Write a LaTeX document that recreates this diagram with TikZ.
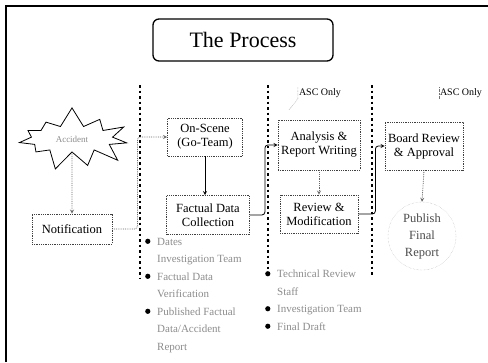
\documentclass[tikz,border=0pt]{standalone}
\usepackage{fontspec}
\setmainfont{Liberation Serif}
\usetikzlibrary{arrows, shapes.symbols, calc}
\tikzset{
    step-box/.style={
        draw=black!75, densely dotted, thick, align=center, inner sep=1pt,
        font=\fontsize{12.5}{14}\selectfont
    },
    title-box/.style={
        draw, line width=1.3pt, rounded corners=6pt,
        minimum width=180pt, minimum height=42pt, font=\fontsize{22}{24}\selectfont
    },
    burst/.style={
        starburst, draw, thick, starburst points=11, starburst point height=20pt,
        random starburst=7, minimum width=122pt, minimum height=66pt, inner sep=0pt,
        text=black!45, font=\fontsize{9}{10}\selectfont
    },
    phase-line/.style={line width=1.6pt, dash pattern=on 2.5pt off 3pt},
    solid-link/.style={->, >=stealth, thick, rounded corners=3pt},
    dot-link/.style={->, >=stealth, thick, densely dotted, black!60, rounded corners=3pt},
    asc-label/.style={font=\fontsize{10}{11}\selectfont, inner sep=1pt},
    leader/.style={densely dotted, black!55},
    bullet-list/.style={
        anchor=north west, align=left, inner sep=0pt, text=black!45,
        font=\fontsize{11}{17.5}\selectfont
    },
}
\newcommand{\bitem}{\makebox[12pt][l]{\raisebox{1.5pt}{\tikz\fill[black] (0,0) circle (2.6pt);}}}
\newcommand{\bgap}{\hspace*{12pt}}

\begin{document}
\begin{tikzpicture}[x=1pt, y=-1pt]

        \useasboundingbox (0,0) rectangle (488,362);

        % FRAME
        \draw[line width=2pt] (6,362) -- (6,6) -- (488,6);

        % TITLE
        \node[title-box]  (TITLE)    at (243,40)   {The Process};

        % PHASE SEPARATORS
        \coordinate (SEP1T) at (140,85);
        \coordinate (SEP1B) at (140,278);
        \coordinate (SEP2T) at (268,85);
        \coordinate (SEP2B) at (268,277);
        \coordinate (SEP3T) at (372,85);
        \coordinate (SEP3B) at (372,275);
        \draw[phase-line] (SEP1T) -- (SEP1B);
        \draw[phase-line] (SEP2T) -- (SEP2B);
        \draw[phase-line] (SEP3T) -- (SEP3B);

        % EVENT AND NOTIFICATION
        \node[burst]      (ACC)      at (72,139)   {Accident};
        \node[step-box, minimum width=80pt, minimum height=30pt]
                          (NOTE)     at (72,229)   {Notification};

        % INVESTIGATION STEPS
        \node[step-box, minimum width=75pt, minimum height=38pt]
                          (ONSCENE)  at (205,137)  {On-Scene\\(Go-Team)};
        \node[step-box, minimum width=83pt, minimum height=39pt]
                          (FACTS)    at (208,215)  {Factual Data\\Collection};
        \node[step-box, minimum width=82pt, minimum height=50pt]
                          (ANALYSIS) at (319,145)  {Analysis \&\\Report Writing};
        \node[step-box, minimum width=78pt, minimum height=38pt]
                          (REVIEW)   at (319,214)  {Review \&\\Modification};
        \node[step-box, minimum width=78pt, minimum height=48pt]
                          (BOARD)    at (424,146)  {Board Review\\\& Approval};
        \node[circle, draw=black!30, densely dotted, align=center, inner sep=0pt,
              minimum size=68pt, font=\fontsize{12.5}{17}\selectfont, text=black!70]
                          (PUBLISH)  at (422,236)  {Publish\\Final\\Report};

        % ASC ONLY LABELS
        \node[asc-label]  (ASC1)     at (320,93)   {ASC Only};
        \node[asc-label]  (ASC2)     at (461,93)   {ASC Only};
        \coordinate       (ASC1TIP)  at (289,110);
        \draw[leader] (ASC1.north west) -- (ASC1.south west) -- (ASC1TIP);
        \draw[leader] (ASC2.north west) -- (ASC2.south west);

        % CONNECTIONS
        \draw[dot-link]   (ACC.south)    -- (NOTE.north);
        \draw[dot-link]   (NOTE.east)    -- ++(25,0) |- (ONSCENE.west);
        \draw[solid-link] (ONSCENE.south) -- (FACTS.north -| ONSCENE.south);
        \draw[solid-link] (FACTS.east)   -- ++(15,0) |- (ANALYSIS.west);
        \draw[dot-link]   (ANALYSIS.south) -- (REVIEW.north);
        \draw[solid-link] (REVIEW.east)  -- ++(17,0) |- (BOARD.west);
        \draw[dot-link]   (BOARD.south)  -- (PUBLISH.north);

        % DELIVERABLES
        \node[bullet-list] (FACTLIST)   at (145,238) {%
            \bitem Dates\\
            \bgap Investigation Team\\
            \bitem Factual Data\\
            \bgap Verification\\
            \bitem Published Factual\\
            \bgap Data/Accident\\
            \bgap Report};
        \node[bullet-list] (REVIEWLIST) at (265,270) {%
            \bitem Technical Review\\
            \bgap Staff\\
            \bitem Investigation Team\\
            \bitem Final Draft};

    \end{tikzpicture}
\end{document}
